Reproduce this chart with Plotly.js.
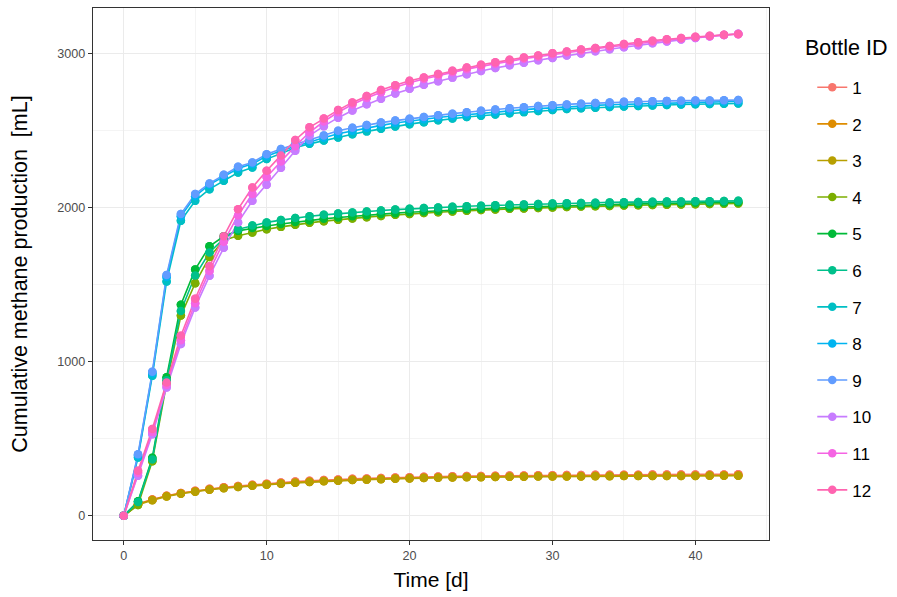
<!DOCTYPE html>
<html>
<head>
<meta charset="utf-8">
<script src="https://cdn.plot.ly/plotly-3.0.1.min.js"></script>
<style>html,body{margin:0;padding:0;background:#fff;}#chart{width:897px;height:597px;}</style>
</head>
<body>
<div id="chart"></div>
<script>
const days = Array.from({length: 44}, (_, i) => i);
const bottleIds = ['1','2','3','4','5','6','7','8','9','10','11','12'];
const colors = ['#F8766D','#DE8C00','#B79F00','#7CAE00','#00BA38','#00C08B','#00BFC4','#00B4F0','#619CFF','#C77CFF','#F564E3','#FF64B0'];
const xTicks = [0, 10, 20, 30, 40];
const yTicks = [0, 1000, 2000, 3000];

const b1 = [0,78,106,130,148,162,175,185,194,202,209,216,222,227,232,236,240,243,246,249,251,253,255,257,258,259,260,261,262,263,264,265,265,266,266,267,267,268,268,268,269,269,269,270];
const b2 = [0,75,104,128,146,160,172,182,190,198,205,211,217,222,227,231,235,238,241,244,246,248,250,252,253,254,255,256,257,258,258,259,259,260,260,261,261,261,262,262,262,263,263,263];
const b3 = [0,72,101,125,143,157,169,179,187,195,202,208,214,219,224,228,232,235,238,241,243,245,247,249,250,251,252,253,254,255,255,256,256,257,257,258,258,258,259,259,259,260,260,260];
const b4 = [0,70,355,860,1300,1510,1680,1790,1818,1840,1860,1876,1890,1902,1913,1923,1931,1939,1947,1954,1960,1966,1971,1976,1981,1985,1989,1993,1996,1999,2002,2005,2008,2010,2012,2014,2016,2018,2020,2022,2023,2025,2026,2028];
const b5 = [0,95,377,900,1370,1600,1750,1815,1850,1868,1882,1895,1907,1918,1928,1937,1945,1952,1959,1965,1971,1976,1981,1986,1990,1994,1998,2002,2005,2008,2011,2014,2017,2019,2021,2023,2025,2027,2029,2031,2032,2034,2035,2036];
const b6 = [0,90,365,880,1330,1560,1710,1800,1860,1885,1905,1920,1933,1945,1954,1962,1970,1976,1982,1988,1993,1998,2002,2006,2010,2013,2016,2019,2022,2025,2027,2029,2031,2033,2035,2036,2038,2039,2040,2041,2042,2043,2044,2045];
const b7 = [0,379,909,1522,1916,2045,2121,2175,2229,2262,2316,2353,2390,2415,2437,2457,2477,2496,2513,2528,2543,2556,2568,2579,2589,2597,2605,2613,2621,2628,2635,2641,2646,2650,2654,2658,2661,2664,2667,2670,2672,2674,2676,2677];
const b8 = [0,390,925,1550,1945,2075,2150,2205,2255,2285,2335,2370,2400,2428,2455,2480,2500,2518,2535,2550,2563,2575,2586,2596,2605,2614,2622,2630,2637,2644,2650,2656,2661,2665,2669,2672,2675,2678,2680,2682,2684,2686,2688,2690];
const b9 = [0,400,935,1563,1959,2089,2158,2214,2266,2294,2348,2381,2410,2440,2470,2500,2520,2538,2553,2566,2578,2590,2601,2611,2620,2630,2638,2646,2653,2660,2666,2671,2676,2680,2684,2688,2690,2692,2694,2695,2696,2697,2698,2699];
const b10 = [0,260,530,833,1115,1353,1558,1740,1905,2045,2150,2260,2370,2468,2530,2585,2632,2672,2708,2742,2772,2798,2822,2845,2867,2888,2907,2925,2942,2958,2973,2988,3002,3016,3029,3042,3055,3068,3080,3092,3103,3113,3122,3130];
const b11 = [0,280,545,850,1140,1380,1590,1780,1950,2090,2200,2300,2400,2490,2560,2620,2670,2712,2750,2782,2812,2836,2858,2880,2900,2918,2935,2952,2967,2981,2995,3008,3020,3032,3044,3056,3068,3078,3088,3097,3106,3114,3121,3127];
const b12 = [0,292,563,866,1169,1409,1620,1815,1991,2132,2240,2340,2440,2522,2580,2634,2684,2725,2764,2796,2825,2846,2868,2890,2911,2929,2944,2961,2976,2989,3004,3015,3028,3037,3050,3063,3075,3085,3094,3102,3110,3117,3123,3128];

const series = [b1,b2,b3,b4,b5,b6,b7,b8,b9,b10,b11,b12];

const traces = [];
series.forEach((ys, i) => {
  traces.push({
    x: days, y: ys, type: 'scatter', mode: 'lines+markers',
    name: bottleIds[i], legendgroup: 'g' + i,
    line: {color: colors[i], width: 1.6},
    marker: {color: colors[i], size: 8.5},
    hoverinfo: 'skip'
  });
});
series.forEach((ys, i) => {
  traces.push({
    x: days, y: ys, type: 'scatter', mode: 'markers',
    showlegend: false, legendgroup: 'g' + i,
    marker: {color: colors[i], size: 8.5},
    hoverinfo: 'skip'
  });
});

const fontFam = 'Liberation Sans';
const layout = {
  width: 897, height: 597,
  margin: {l: 93, r: 128, t: 8, b: 57},
  paper_bgcolor: '#ffffff', plot_bgcolor: '#ffffff',
  font: {family: fontFam, color: '#000000'},
  showlegend: true,
  xaxis: {
    range: [-2.15, 45.15], tickvals: xTicks, ticktext: xTicks.map(String),
    showgrid: true, gridcolor: '#EBEBEB', gridwidth: 1.1,
    minor: {tickvals: [5,15,25,35,45], showgrid: true, gridcolor: '#EBEBEB', gridwidth: 0.55},
    zeroline: false, showline: true, mirror: true, linecolor: '#333333', linewidth: 1.3,
    ticks: 'outside', ticklen: 4, tickcolor: '#333333', tickwidth: 1.1,
    tickfont: {size: 12.6, color: '#4D4D4D', family: fontFam},
    title: {text: 'Time [d]', font: {size: 21, color: '#000000', family: fontFam}, standoff: 10}
  },
  yaxis: {
    range: [-157, 3297], tickvals: yTicks, ticktext: yTicks.map(String),
    showgrid: true, gridcolor: '#EBEBEB', gridwidth: 1.1,
    minor: {tickvals: [500,1500,2500], showgrid: true, gridcolor: '#EBEBEB', gridwidth: 0.55},
    zeroline: false, showline: true, mirror: true, linecolor: '#333333', linewidth: 1.3,
    ticks: 'outside', ticklen: 4, tickcolor: '#333333', tickwidth: 1.1,
    tickfont: {size: 12.6, color: '#4D4D4D', family: fontFam},
    title: {text: 'Cumulative methane production  [mL]', font: {size: 21.5, color: '#000000', family: fontFam}, standoff: 23}
  },
  legend: {
    x: 1.064, xanchor: 'left', y: 0.884, yanchor: 'top',
    font: {size: 17, family: fontFam, color: '#000000'},
    tracegroupgap: 11.5, itemwidth: 30, bgcolor: 'rgba(0,0,0,0)'
  },
  annotations: [{
    text: 'Bottle ID', xref: 'paper', yref: 'paper',
    x: (803 - 93) / 676, y: (540 - 48) / 532, xanchor: 'left', yanchor: 'middle',
    showarrow: false, font: {size: 21.5, family: fontFam, color: '#000000'}
  }]
};

Plotly.newPlot('chart', traces, layout, {displayModeBar: false, staticPlot: true});
</script>
</body>
</html>
